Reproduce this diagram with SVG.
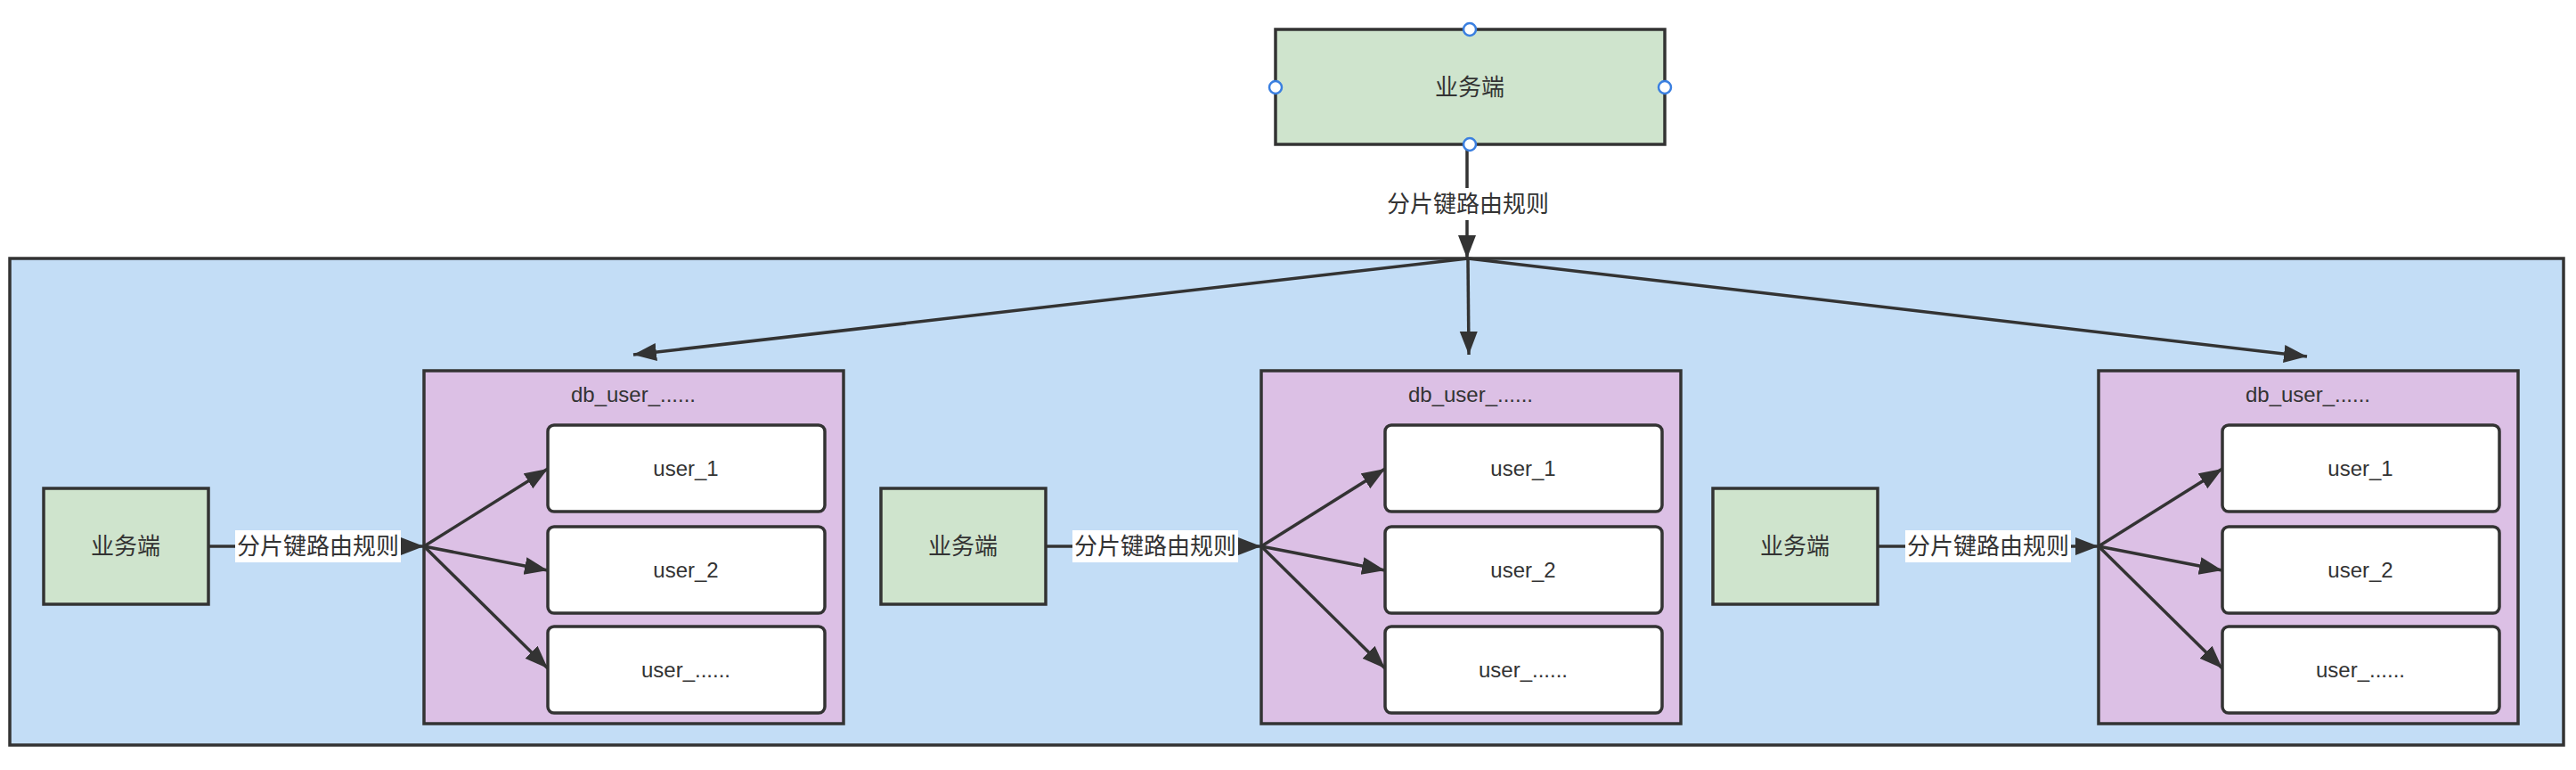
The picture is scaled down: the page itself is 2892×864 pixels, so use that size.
<svg xmlns="http://www.w3.org/2000/svg" width="2892" height="864" viewBox="0 0 2892 864">
<defs>
<style>
.t{font-family:"Liberation Sans","Noto Sans CJK SC",sans-serif;fill:#333;text-anchor:middle;dominant-baseline:central}
.cjk{font-size:26px}
.lat{font-size:24px}
.biz{fill:#cfe4cd;stroke:#333;stroke-width:3.5}
.db{fill:#dcc0e5;stroke:#333;stroke-width:3.5}
.usr{fill:#fff;stroke:#333;stroke-width:3.5}
.edge{stroke:#333;stroke-width:3.5;fill:none;marker-end:url(#ah)}
.lbl{fill:#fff}
.port{fill:#fff;stroke:#3a7fe0;stroke-width:2.5}
</style>
<marker id="ah" markerUnits="userSpaceOnUse" markerWidth="28" markerHeight="22" refX="26" refY="10" orient="auto">
<path d="M0,0 L26,10 L0,20 Z" fill="#333"/>
</marker>
</defs>
<rect width="2892" height="864" fill="#fff"/>
<g id="container">
<rect x="11" y="290" width="2867" height="546" fill="#c3ddf6" stroke="#333" stroke-width="3.5"/>
</g>
<g id="db1">
<rect class="db" x="476" y="416" width="471" height="396"/>
<text class="t lat" x="711" y="442">db_user_......</text>
</g>
<g id="db2">
<rect class="db" x="1416" y="416" width="471" height="396"/>
<text class="t lat" x="1651" y="442">db_user_......</text>
</g>
<g id="db3">
<rect class="db" x="2356" y="416" width="471" height="396"/>
<text class="t lat" x="2591" y="442">db_user_......</text>
</g>
<g id="connectors">
<line x1="1647" y1="162" x2="1647" y2="290" class="edge"/>
<line x1="1648" y1="290" x2="711" y2="398" class="edge"/>
<line x1="1648" y1="290" x2="1649" y2="398" class="edge"/>
<line x1="1648" y1="290" x2="2590" y2="400" class="edge"/>
<line x1="234" y1="613" x2="476" y2="613" class="edge"/>
<line x1="1174" y1="613" x2="1416" y2="613" class="edge"/>
<line x1="2108" y1="613" x2="2356" y2="613" class="edge"/>
<line x1="476" y1="613" x2="615" y2="526" class="edge"/>
<line x1="476" y1="613" x2="615" y2="640" class="edge"/>
<line x1="476" y1="613" x2="615" y2="750" class="edge"/>
<line x1="1416" y1="613" x2="1555" y2="526" class="edge"/>
<line x1="1416" y1="613" x2="1555" y2="640" class="edge"/>
<line x1="1416" y1="613" x2="1555" y2="750" class="edge"/>
<line x1="2356" y1="613" x2="2495" y2="526" class="edge"/>
<line x1="2356" y1="613" x2="2495" y2="640" class="edge"/>
<line x1="2356" y1="613" x2="2495" y2="750" class="edge"/>
<rect class="lbl" x="1552" y="211" width="192" height="36"/>
<text class="t cjk" x="1648" y="229">分片键路由规则</text>
<rect class="lbl" x="264" y="595" width="186" height="36"/>
<text class="t cjk" x="357" y="613">分片键路由规则</text>
<rect class="lbl" x="1204" y="595" width="186" height="36"/>
<text class="t cjk" x="1297" y="613">分片键路由规则</text>
<rect class="lbl" x="2139" y="595" width="186" height="36"/>
<text class="t cjk" x="2232" y="613">分片键路由规则</text>
</g>
<g id="top-biz">
<rect class="biz" x="1432" y="33" width="437" height="129"/>
<text class="t cjk" x="1650" y="98">业务端</text>
<circle class="port" cx="1650" cy="33" r="7"/>
<circle class="port" cx="1432" cy="98" r="7"/>
<circle class="port" cx="1869" cy="98" r="7"/>
<circle class="port" cx="1650" cy="162" r="7"/>
</g>
<g id="biz1">
<rect class="biz" x="49" y="548" width="185" height="130"/>
<text class="t cjk" x="141" y="613">业务端</text>
</g>
<g id="biz2">
<rect class="biz" x="989" y="548" width="185" height="130"/>
<text class="t cjk" x="1081" y="613">业务端</text>
</g>
<g id="biz3">
<rect class="biz" x="1923" y="548" width="185" height="130"/>
<text class="t cjk" x="2015" y="613">业务端</text>
</g>
<g id="db1-user1"><rect class="usr" x="615" y="477" width="311" height="97" rx="7"/><text class="t lat" x="770" y="525">user_1</text></g>
<g id="db1-user2"><rect class="usr" x="615" y="591" width="311" height="97" rx="7"/><text class="t lat" x="770" y="639">user_2</text></g>
<g id="db1-user3"><rect class="usr" x="615" y="703" width="311" height="97" rx="7"/><text class="t lat" x="770" y="751">user_......</text></g>
<g id="db2-user1"><rect class="usr" x="1555" y="477" width="311" height="97" rx="7"/><text class="t lat" x="1710" y="525">user_1</text></g>
<g id="db2-user2"><rect class="usr" x="1555" y="591" width="311" height="97" rx="7"/><text class="t lat" x="1710" y="639">user_2</text></g>
<g id="db2-user3"><rect class="usr" x="1555" y="703" width="311" height="97" rx="7"/><text class="t lat" x="1710" y="751">user_......</text></g>
<g id="db3-user1"><rect class="usr" x="2495" y="477" width="311" height="97" rx="7"/><text class="t lat" x="2650" y="525">user_1</text></g>
<g id="db3-user2"><rect class="usr" x="2495" y="591" width="311" height="97" rx="7"/><text class="t lat" x="2650" y="639">user_2</text></g>
<g id="db3-user3"><rect class="usr" x="2495" y="703" width="311" height="97" rx="7"/><text class="t lat" x="2650" y="751">user_......</text></g>
</svg>
